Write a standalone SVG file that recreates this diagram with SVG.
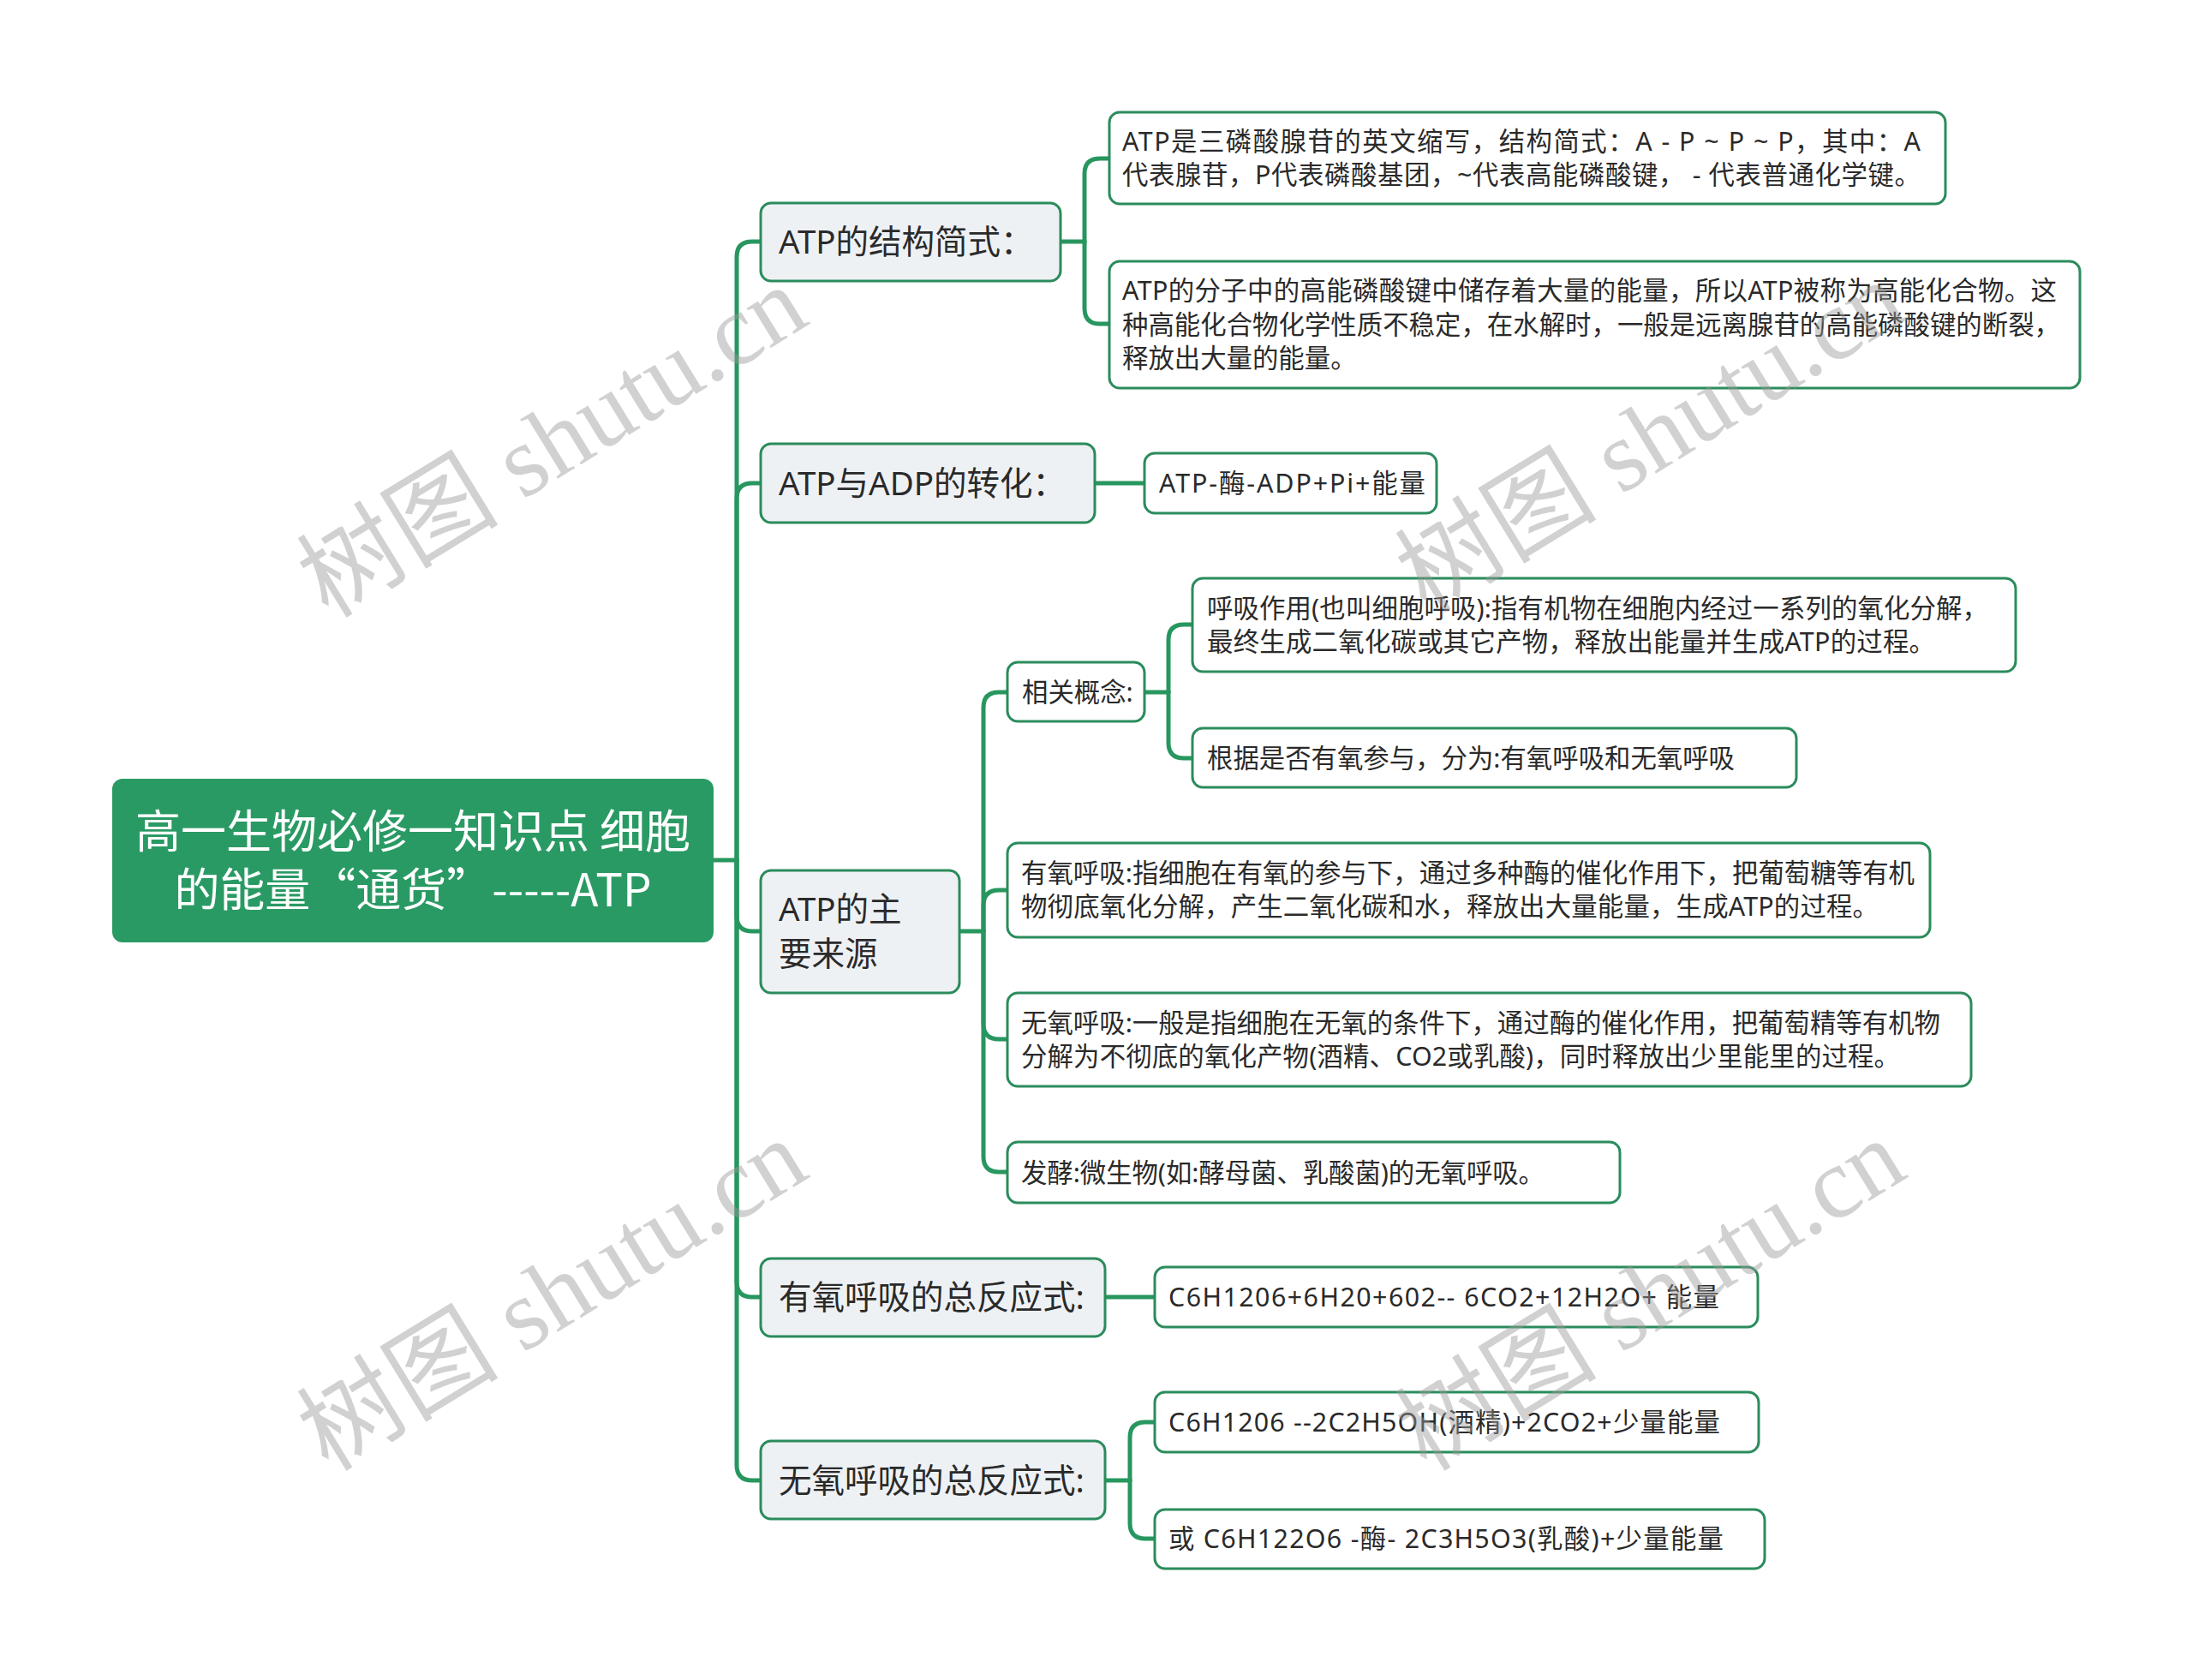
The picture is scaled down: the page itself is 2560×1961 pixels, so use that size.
<svg xmlns="http://www.w3.org/2000/svg" width="2560" height="1961" viewBox="0 0 2560 1961">
<style>
  .root{fill:#2a9a64;}
  .l1{fill:#eef1f4;stroke:#2b8c5c;stroke-width:3;}
  .l2{fill:#ffffff;stroke:#2b8c5c;stroke-width:3;}
  .t{font-family:"Noto Sans","Noto Sans CJK SC",sans-serif;fill:#2a2a2a;}
  .tr{font-family:"Noto Sans CJK SC","Noto Sans",sans-serif;fill:#ffffff;font-size:53px;}
  .t1{font-size:38.5px;}
  .t2{font-size:30.4px;}
  .c{fill:none;stroke:#27965f;stroke-width:5;stroke-linecap:round;stroke-linejoin:round;}
  .wm{font-family:"Liberation Serif","Noto Sans CJK SC",serif;font-size:118px;fill:#9a9a9a;opacity:0.45;}
</style>
<rect width="2560" height="1961" fill="#ffffff"/>

<g id="connectors">
  <path class="c" d="M833,1004 H860"/>
  <path class="c" d="M860,1004 V300 Q860,282 878,282 H888"/>
  <path class="c" d="M860,1004 V582 Q860,564 878,564 H888"/>
  <path class="c" d="M860,1004 V1069 Q860,1087 878,1087 H888"/>
  <path class="c" d="M860,1004 V1496 Q860,1514 878,1514 H888"/>
  <path class="c" d="M860,1004 V1710 Q860,1728 878,1728 H888"/>

  <path class="c" d="M1238,282 H1266"/>
  <path class="c" d="M1266,282 V203 Q1266,185 1284,185 H1295"/>
  <path class="c" d="M1266,282 V360 Q1266,378 1284,378 H1295"/>

  <path class="c" d="M1278,564 H1336"/>

  <path class="c" d="M1120,1087 H1148"/>
  <path class="c" d="M1148,1087 V826 Q1148,808 1166,808 H1176"/>
  <path class="c" d="M1148,1087 V1057 Q1148,1039 1166,1039 H1176"/>
  <path class="c" d="M1148,1087 V1195 Q1148,1213 1166,1213 H1176"/>
  <path class="c" d="M1148,1087 V1350 Q1148,1368 1166,1368 H1176"/>

  <path class="c" d="M1336,808 H1364"/>
  <path class="c" d="M1364,808 V747 Q1364,729 1382,729 H1392"/>
  <path class="c" d="M1364,808 V867 Q1364,885 1382,885 H1392"/>

  <path class="c" d="M1290,1514 H1348"/>

  <path class="c" d="M1290,1728 H1319"/>
  <path class="c" d="M1319,1728 V1678 Q1319,1660 1337,1660 H1348"/>
  <path class="c" d="M1319,1728 V1778 Q1319,1796 1337,1796 H1348"/>
</g>

<g id="root">
  <rect class="root" x="131" y="909" width="702" height="191" rx="12"/>
  <text class="tr" x="482" y="990" text-anchor="middle">高一生物必修一知识点 细胞</text>
  <text class="tr" x="482" y="1058" text-anchor="middle">的能量“通货”-----ATP</text>
</g>

<g id="n1">
  <rect class="l1" x="888" y="237" width="350" height="91" rx="12"/>
  <text class="t t1" x="909" y="296">ATP的结构简式：</text>
</g>
<g id="n1a">
  <rect class="l2" x="1295" y="131" width="976" height="107" rx="12"/>
  <text class="t t2" x="1310" y="176" textLength="932">ATP是三磷酸腺苷的英文缩写，结构简式：A - P ~ P ~ P，其中：A</text>
  <text class="t t2" x="1310" y="215" textLength="932">代表腺苷，P代表磷酸基团，~代表高能磷酸键， - 代表普通化学键。</text>
</g>
<g id="n1b">
  <rect class="l2" x="1295" y="305" width="1133" height="148" rx="12"/>
  <text class="t t2" x="1310" y="350" textLength="1091">ATP的分子中的高能磷酸键中储存着大量的能量，所以ATP被称为高能化合物。这</text>
  <text class="t t2" x="1310" y="390" textLength="1095">种高能化合物化学性质不稳定，在水解时，一般是远离腺苷的高能磷酸键的断裂，</text>
  <text class="t t2" x="1310" y="429">释放出大量的能量。</text>
</g>

<g id="n2">
  <rect class="l1" x="888" y="518" width="390" height="92" rx="12"/>
  <text class="t t1" x="909" y="578">ATP与ADP的转化：</text>
</g>
<g id="n2a">
  <rect class="l2" x="1336" y="529" width="341" height="70" rx="12"/>
  <text class="t t2" x="1353" y="575" textLength="311">ATP-酶-ADP+Pi+能量</text>
</g>

<g id="n3">
  <rect class="l1" x="888" y="1016" width="232" height="143" rx="12"/>
  <text class="t t1" x="909" y="1075">ATP的主</text>
  <text class="t t1" x="909" y="1127">要来源</text>
</g>
<g id="n3a">
  <rect class="l2" x="1176" y="773" width="160" height="69" rx="12"/>
  <text class="t t2" x="1193" y="819">相关概念:</text>
</g>
<g id="n3a1">
  <rect class="l2" x="1392" y="675" width="961" height="109" rx="12"/>
  <text class="t t2" x="1409" y="721" textLength="912">呼吸作用(也叫细胞呼吸):指有机物在细胞内经过一系列的氧化分解，</text>
  <text class="t t2" x="1409" y="760" textLength="850">最终生成二氧化碳或其它产物，释放出能量并生成ATP的过程。</text>
</g>
<g id="n3a2">
  <rect class="l2" x="1392" y="850" width="705" height="69" rx="12"/>
  <text class="t t2" x="1409" y="896" textLength="616">根据是否有氧参与，分为:有氧呼吸和无氧呼吸</text>
</g>
<g id="n3b">
  <rect class="l2" x="1176" y="984" width="1077" height="110" rx="12"/>
  <text class="t t2" x="1192" y="1030" textLength="1043">有氧呼吸:指细胞在有氧的参与下，通过多种酶的催化作用下，把葡萄糖等有机</text>
  <text class="t t2" x="1192" y="1069" textLength="1001">物彻底氧化分解，产生二氧化碳和水，释放出大量能量，生成ATP的过程。</text>
</g>
<g id="n3c">
  <rect class="l2" x="1176" y="1159" width="1125" height="109" rx="12"/>
  <text class="t t2" x="1192" y="1205" textLength="1073">无氧呼吸:一般是指细胞在无氧的条件下，通过酶的催化作用，把葡萄精等有机物</text>
  <text class="t t2" x="1192" y="1244" textLength="1026">分解为不彻底的氧化产物(酒精、CO2或乳酸)，同时释放出少里能里的过程。</text>
</g>
<g id="n3d">
  <rect class="l2" x="1176" y="1333" width="715" height="71" rx="12"/>
  <text class="t t2" x="1192" y="1380" textLength="611">发酵:微生物(如:酵母菌、乳酸菌)的无氧呼吸。</text>
</g>

<g id="n4">
  <rect class="l1" x="888" y="1469" width="402" height="91" rx="12"/>
  <text class="t t1" x="909" y="1528">有氧呼吸的总反应式:</text>
</g>
<g id="n4a">
  <rect class="l2" x="1348" y="1479" width="704" height="70" rx="12"/>
  <text class="t t2" x="1364" y="1525" textLength="643">C6H1206+6H20+602-- 6CO2+12H2O+ 能量</text>
</g>

<g id="n5">
  <rect class="l1" x="888" y="1682" width="402" height="91" rx="12"/>
  <text class="t t1" x="909" y="1742">无氧呼吸的总反应式:</text>
</g>
<g id="n5a">
  <rect class="l2" x="1348" y="1625" width="705" height="70" rx="12"/>
  <text class="t t2" x="1364" y="1671" textLength="644">C6H1206 --2C2H5OH(酒精)+2CO2+少量能量</text>
</g>
<g id="n5b">
  <rect class="l2" x="1348" y="1762" width="712" height="69" rx="12"/>
  <text class="t t2" x="1364" y="1807" textLength="648">或  C6H122O6 -酶- 2C3H5O3(乳酸)+少量能量</text>
</g>

<g id="watermark">
  <text class="wm" x="645" y="516" text-anchor="middle" dominant-baseline="central" transform="rotate(-31.5 645 516)">树图 shutu.cn</text>
  <text class="wm" x="1927" y="510" text-anchor="middle" dominant-baseline="central" transform="rotate(-31.5 1927 510)">树图 shutu.cn</text>
  <text class="wm" x="645" y="1512" text-anchor="middle" dominant-baseline="central" transform="rotate(-31.5 645 1512)">树图 shutu.cn</text>
  <text class="wm" x="1927" y="1512" text-anchor="middle" dominant-baseline="central" transform="rotate(-31.5 1927 1512)">树图 shutu.cn</text>
</g>
</svg>
